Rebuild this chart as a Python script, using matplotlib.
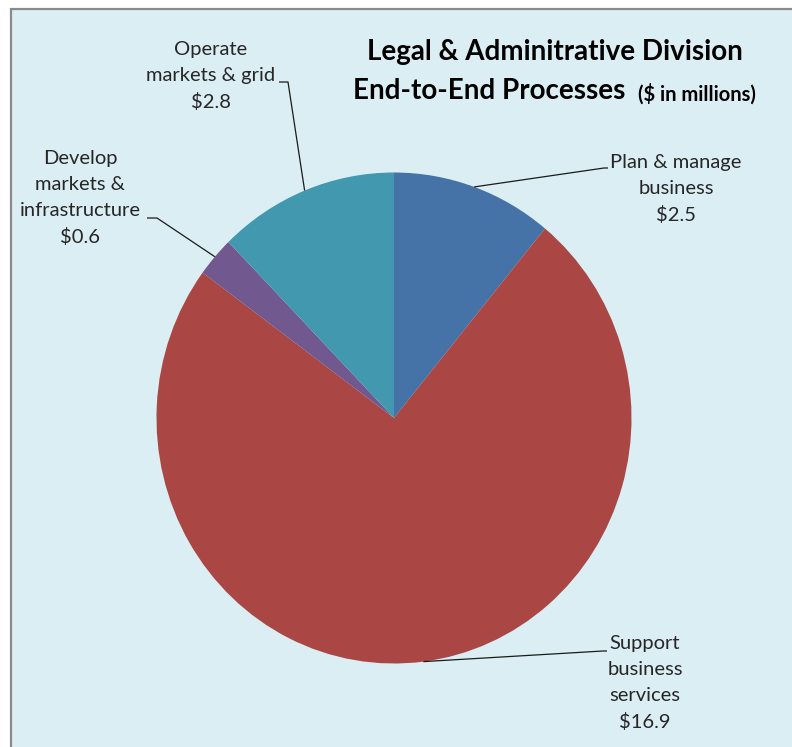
import matplotlib.pyplot as plt
import numpy as np
from matplotlib.patches import Rectangle

labels = ['Plan & manage\nbusiness', 'Support\nbusiness\nservices',
          'Develop\nmarkets &\ninfrastructure', 'Operate\nmarkets & grid']
values = [2.5, 16.9, 0.6, 2.8]
colors = ['#4572A7', '#AA4643', '#71588F', '#4198AF']

W, H = 792, 747
cx, cy = 394, 418        # pie centre in pixels (from top-left)
rx, ry = 237.5, 245.5    # pie radius in pixels


def px(x, y):
    """pixel position (top-left origin) -> data coords of the pie axes"""
    return (x - cx) / rx, (cy - y) / ry


fig = plt.figure(figsize=(W / 100, H / 100), dpi=100, facecolor='white')

# chart area fill with a grey frame on the left and top
fig.patches.append(Rectangle((10.5 / W, -0.1), 1.2, (H - 8.5) / H + 0.1,
                             transform=fig.transFigure, facecolor='#DBEEF4',
                             edgecolor='#8a8a8a', linewidth=1.6, zorder=-1))

ax = fig.add_axes([0, 0, 1, 1])
ax.patch.set_alpha(0)

wedges, _ = ax.pie(values, colors=colors, startangle=90, counterclock=False,
                   radius=1, wedgeprops=dict(linewidth=0))
ax.set_aspect('auto')
ax.set_xlim(-cx / rx, (W - cx) / rx)
ax.set_ylim(-(H - cy) / ry, cy / ry)
ax.axis('off')

# label centre and leader-line elbow for each slice
label_pos = [(676, 189), (645, 683), (80, 198), (211, 76)]
elbows = [[(604, 168), (608, 168)],
          [(603, 651), (607, 651)],
          [(157, 218), (147, 218)],
          [(288, 82), (279, 82)]]

font = 'Lato'
for w, lab, val, pos, elb in zip(wedges, labels, values, label_pos, elbows):
    mid = np.deg2rad((w.theta1 + w.theta2) / 2)
    ax_, ay_ = w.center[0] + w.r * np.cos(mid), w.center[1] + w.r * np.sin(mid)
    pts = [(ax_, ay_)] + [px(*p) for p in elb]
    xs, ys = zip(*pts)
    ax.plot(xs, ys, color='#1a1a1a', linewidth=0.9, solid_capstyle='butt')
    ax.text(*px(*pos), f'{lab}\n${val}', ha='center', va='center',
            multialignment='center', fontsize=14.5, family=font,
            color='#262626', linespacing=1.65)

# title
ax.text(*px(555, 52), 'Legal & Adminitrative Division', ha='center', va='center',
        fontsize=20, fontweight='bold', family=font, color='black')
ax.text(*px(353, 91), 'End-to-End Processes', ha='left', va='center',
        fontsize=20, fontweight='bold', family=font, color='black')
ax.text(*px(638, 94), '($ in millions)', ha='left', va='center',
        fontsize=14.5, fontweight='bold', family=font, color='black')

fig.savefig('out.png', dpi=100, facecolor=fig.get_facecolor())
